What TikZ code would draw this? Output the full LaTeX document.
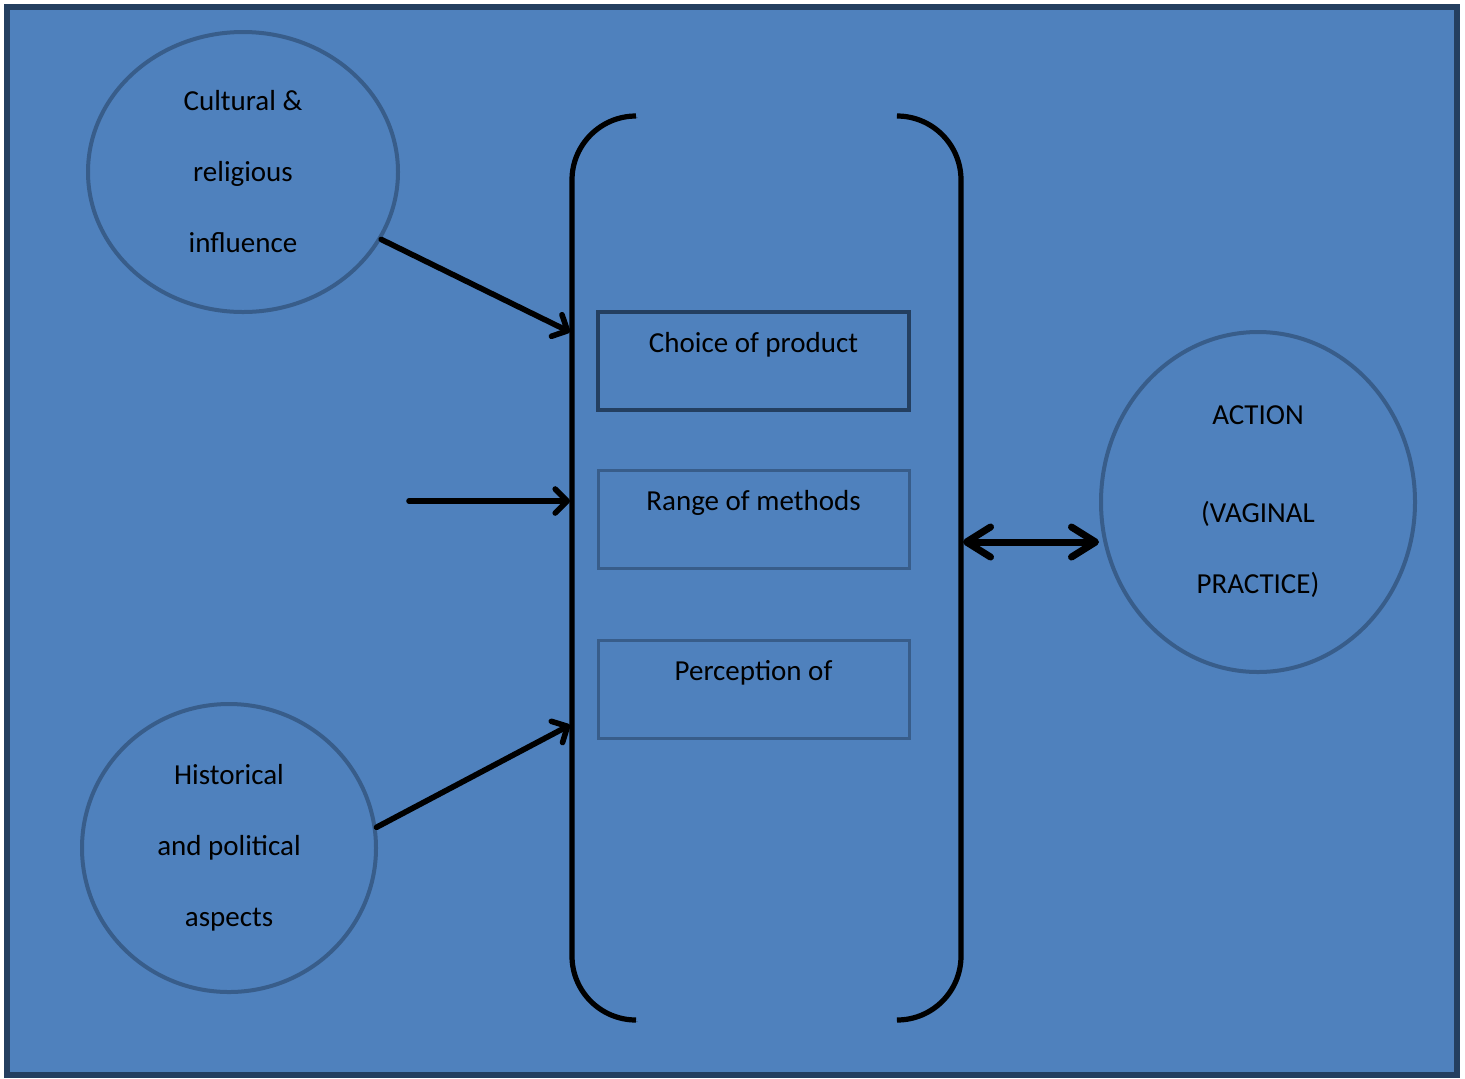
\documentclass[tikz,border=0pt]{standalone}
\usepackage{fontspec}
\setmainfont{Carlito}
\usetikzlibrary{arrows.meta, shapes.geometric}

\definecolor{bgblue}{HTML}{4F81BD}
\definecolor{frameblue}{HTML}{243F60}
\definecolor{edgeblue}{HTML}{385D8A}

\tikzset{
  bubble/.style={ellipse, draw=edgeblue, line width=2pt, inner sep=0pt, align=center,
    font=\fontsize{14.5}{35.5}\selectfont},
  factorbox/.style={rectangle, draw=edgeblue, line width=1.5pt, minimum width=155.5pt,
    minimum height=49pt, inner sep=0pt, text height=10pt, text depth=19pt,
    font=\fontsize{14.5}{18}\selectfont},
  shadowed/.style={preaction={draw=frameblue, opacity=0.5,
    transform canvas={shift={(0.8pt,-0.8pt)}}}},
  bracket/.style={shadowed, line width=2.6pt, rounded corners=32pt},
  link/.style={shadowed, line width=2.8pt, line cap=round, ->,
    >={Straight Barb[round, length=6pt, width=12pt]}},
  duplex/.style={shadowed, line width=3.5pt, <->,
    >={Straight Barb[round, length=12pt, width=15pt]}},
}

\begin{document}
\begin{tikzpicture}[x=0.5pt, y=-0.5pt]
\useasboundingbox (0,0) rectangle (1465,1078);

% Frame
\draw[frameblue, line width=3pt, fill=bgblue] (7,7) rectangle (1457,1075);

% Circles
\node[bubble, minimum width=155pt, minimum height=140pt] (cult) at (243,172)
  {Cultural \&\\religious\\influence};
\node[bubble, minimum width=147pt, minimum height=144pt] (hist) at (229,848)
  {Historical\\and political\\aspects};
\node[bubble, minimum width=157pt, minimum height=170pt] (act) at (1258,502)
  {ACTION\\[13.5pt](VAGINAL\\PRACTICE)};

% Boxes
\node[factorbox, draw=frameblue, line width=2pt] (choice) at (753.5,361) {Choice of product};
\node[factorbox] (range) at (753.5,519.5) {Range of methods};
\node[factorbox] (perc) at (753.5,689.5) {Perception of};

% Brackets
\draw[bracket] (636,116) -- (572,116) -- (572,1020) -- (636,1020);
\draw[bracket] (898,116) -- (961,116) -- (961,1020) -- (898,1020);

% Arrows
\coordinate (in1) at (570,332);
\coordinate (in2) at (570,501);
\coordinate (in3) at (570,725);
\coordinate (tail) at (409,501);
\coordinate (out) at (963,542);
\draw[link] (cult.-26) -- (in1);
\draw[link] (tail) -- (in2);
\draw[link] (hist.8) -- (in3);
\draw[duplex] (out) -- (out -| act.west);

\end{tikzpicture}
\end{document}
